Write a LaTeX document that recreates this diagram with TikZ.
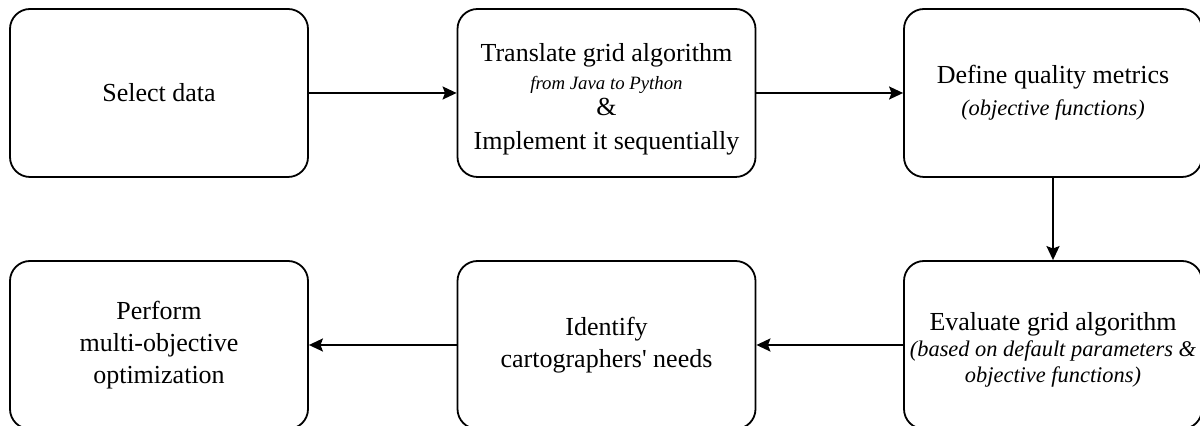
\documentclass[tikz,border=0pt]{standalone}
\usepackage{fontspec}
\setmainfont{Liberation Serif}
\usetikzlibrary{arrows.meta}
\begin{document}
\begin{tikzpicture}[x=0.5pt,y=-0.5pt,
  stepbox/.style={draw, line width=0.9pt, rounded corners=10pt, minimum width=149pt, minimum height=84pt, inner sep=0pt, align=center, font=\fontsize{13}{16}\selectfont},
  flow/.style={draw, line width=0.9pt, -{Stealth[length=7pt,width=6.5pt,inset=1.2pt]}}
]
\clip (0,0) rectangle (1200,426);
\node[stepbox] (b1) at (159,93) {Select data};
\node[stepbox] (b2) at (606.5,93) {\rule{0pt}{15pt}Translate grid algorithm\\[-2pt]{\fontsize{9.4}{11}\selectfont\itshape from Java to Python}\\[-3pt]\&\\[1pt]Implement it sequentially};
\node[stepbox] (b3) at (1053,93) {Define quality metrics\\{\fontsize{11.2}{13}\selectfont\itshape (objective functions)}};
\node[stepbox] (b4) at (1053,345) {\rule{0pt}{14pt}Evaluate grid algorithm\\[-3pt]{\fontsize{11.2}{13}\selectfont\itshape (based on default parameters \&}\\[-3pt]{\fontsize{11.2}{13}\selectfont\itshape objective functions)}};
\node[stepbox] (b5) at (606.5,345) {Identify\\cartographers\textquotesingle{} needs};
\node[stepbox] (b6) at (159,345) {Perform\\multi-objective\\optimization};
\draw[flow] (b1) -- (b2);
\draw[flow] (b2) -- (b3);
\draw[flow] (b3) -- (b4);
\draw[flow] (b4) -- (b5);
\draw[flow] (b5) -- (b6);
\end{tikzpicture}
\end{document}
